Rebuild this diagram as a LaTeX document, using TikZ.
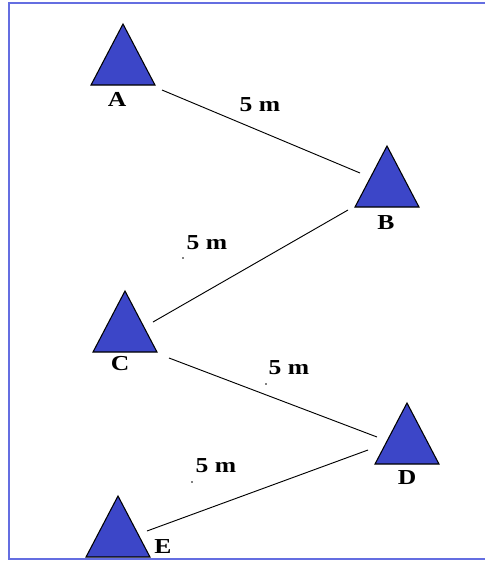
\documentclass[tikz,border=0pt]{standalone}
\usepackage{fontspec}
\setmainfont{Liberation Serif}
\usetikzlibrary{shapes.geometric}
\definecolor{mastblue}{RGB}{60,70,200}
\definecolor{framblue}{RGB}{100,110,225}
\tikzset{
    mast/.style={draw=black, fill=mastblue, line width=0.8pt, isosceles triangle, isosceles triangle apex angle=55.3, shape border rotate=90, minimum height=45.75pt, inner sep=0pt, outer sep=0pt, anchor=apex},
    lbl/.style={font=\bfseries\fontsize{16}{18}\selectfont, inner sep=0pt, xscale=1.2},
    dist/.style={black, line width=0.7pt},
    speck/.style={circle, fill=black, inner sep=0pt, minimum size=1.2pt}
}
\begin{document}
\begin{tikzpicture}[x=0.75pt, y=-0.75pt]
            \useasboundingbox (0, 0) rectangle (485, 561);
            \fill[white] (0, 0) rectangle (485, 561);
            \draw[framblue, line width=1.5pt] (485, 2.5) -- (9, 2.5) -- (9, 559) -- (485, 559);
            \node[mast] (A) at (123, 24) {};
            \node[mast] (B) at (387, 146) {};
            \node[mast] (C) at (125, 291) {};
            \node[mast] (D) at (407, 403) {};
            \node[mast] (E) at (118, 496) {};
            \node[lbl] (la) at (117, 99) {A};
            \node[lbl] (lb) at (386, 223) {B};
            \node[lbl] (lc) at (120, 364) {C};
            \node[lbl] (ld) at (407, 478) {D};
            \node[lbl] (le) at (163, 547) {E};
            \node[lbl] (ab) at (260, 105) {5 m};
            \node[lbl] (bc) at (207, 243) {5 m};
            \node[lbl] (cd) at (289, 368) {5 m};
            \node[lbl] (de) at (216, 466) {5 m};
            \node[speck] (sb) at (183, 258) {};
            \node[speck] (sc) at (266, 384) {};
            \node[speck] (sd) at (192, 482) {};
            \coordinate (a1) at (162, 90);
            \coordinate (b1) at (360, 173);
            \coordinate (b2) at (348, 210);
            \coordinate (c1) at (153, 322);
            \coordinate (c2) at (169, 358);
            \coordinate (d1) at (377, 437);
            \coordinate (d2) at (368, 450);
            \coordinate (e1) at (147, 531);
            \draw[dist] (a1) -- (b1);
            \draw[dist] (b2) -- (c1);
            \draw[dist] (c2) -- (d1);
            \draw[dist] (d2) -- (e1);
        \end{tikzpicture}
\end{document}
